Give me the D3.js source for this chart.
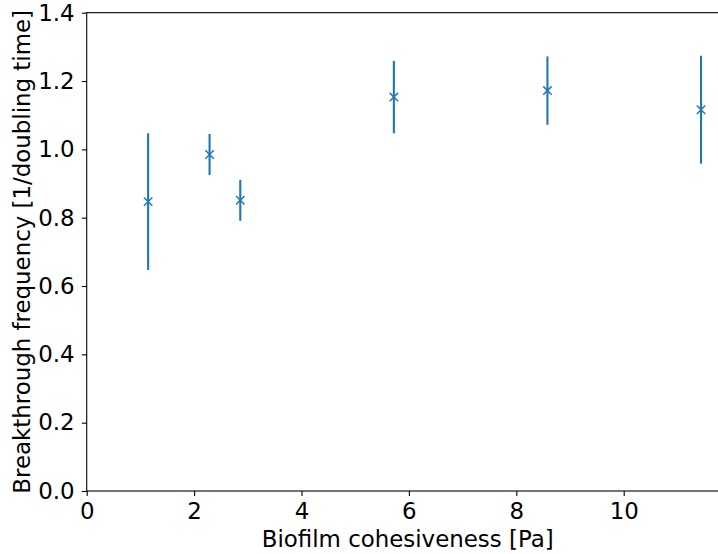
<!DOCTYPE html>
<html>
<head>
<meta charset="utf-8">
<script src="https://cdn.jsdelivr.net/npm/d3@7"></script>
<style>
  html, body { margin: 0; padding: 0; background: #fff; }
  svg { display: block; }
  text { font-family: "DejaVu Sans", sans-serif; fill: #000; }
</style>
</head>
<body>
<svg id="chart" width="718" height="554"></svg>
<script>
// Cohesiveness of each biofilm [Pa]
const cohesiveness = [1.144, 2.288, 2.86, 5.72, 8.58, 11.44];
// Mean breakthrough frequency [1/doubling time]
const frequency = [0.847, 0.985, 0.851, 1.153, 1.172, 1.116];
// Error bar half-widths
const errors = [0.200, 0.060, 0.060, 0.106, 0.100, 0.158];

const xTicks = [0, 2, 4, 6, 8, 10];
const yTicks = [0.0, 0.2, 0.4, 0.6, 0.8, 1.0, 1.2, 1.4];

const color = "#1f77b4";
const fontSize = "22.9px";
const svg = d3.select("#chart");

const plotLeft = 86.7, plotTop = 12.7, plotBottom = 491;
const xMax = 11.955;
const x = d3.scaleLinear().domain([0, xMax]).range([plotLeft, plotLeft + xMax * 53.7]);
const y = d3.scaleLinear().domain([0, 1.4]).range([plotBottom, plotTop]);

const data = cohesiveness.map((c, i) => ({ x: c, y: frequency[i], e: errors[i] }));

// Axes
const xAxis = d3.axisBottom(x).tickValues(xTicks).tickFormat(d3.format("d"))
  .tickSize(4.9).tickPadding(7.2);
const yAxis = d3.axisLeft(y).tickValues(yTicks).tickFormat(d3.format(".1f"))
  .tickSize(4.9).tickPadding(7.2);

const gx = svg.append("g").attr("transform", `translate(0,${plotBottom})`).call(xAxis);
const gy = svg.append("g").attr("transform", `translate(${plotLeft},0)`).call(yAxis);
[gx, gy].forEach(g => {
  g.attr("font-size", null).attr("font-family", null);
  g.selectAll("text").style("font-size", fontSize).attr("fill", "#000");
  g.selectAll("line").attr("stroke", "#000").attr("stroke-width", 1.1);
  g.select(".domain").remove();
});

// Spines
svg.append("rect")
  .attr("x", x(0)).attr("y", y(1.4))
  .attr("width", x(xMax) - x(0)).attr("height", y(0) - y(1.4))
  .attr("stroke", "#000").attr("stroke-width", 1.1).attr("fill", "none");

// Error bars
svg.append("g").selectAll("line").data(data).join("line")
  .attr("x1", d => x(d.x)).attr("x2", d => x(d.x))
  .attr("y1", d => y(d.y - d.e)).attr("y2", d => y(d.y + d.e))
  .attr("stroke", color).attr("stroke-width", 2.1);

// Markers
const m = 4.2;
svg.append("g").selectAll("path").data(data).join("path")
  .attr("d", d => {
    const cx = x(d.x), cy = y(d.y);
    return `M${cx - m},${cy - m}L${cx + m},${cy + m}M${cx - m},${cy + m}L${cx + m},${cy - m}`;
  })
  .attr("stroke", color).attr("stroke-width", 1.5).attr("fill", "none");

// Axis labels
svg.append("text")
  .attr("x", (x(0) + x(xMax)) / 2).attr("y", 546.5)
  .attr("text-anchor", "middle").style("font-size", fontSize)
  .text("Biofilm cohesiveness [Pa]");

svg.append("text")
  .attr("transform", `translate(29.5,${(plotTop + plotBottom) / 2}) rotate(-90)`)
  .attr("text-anchor", "middle").style("font-size", fontSize)
  .text("Breakthrough frequency [1/doubling time]");
</script>
</body>
</html>
